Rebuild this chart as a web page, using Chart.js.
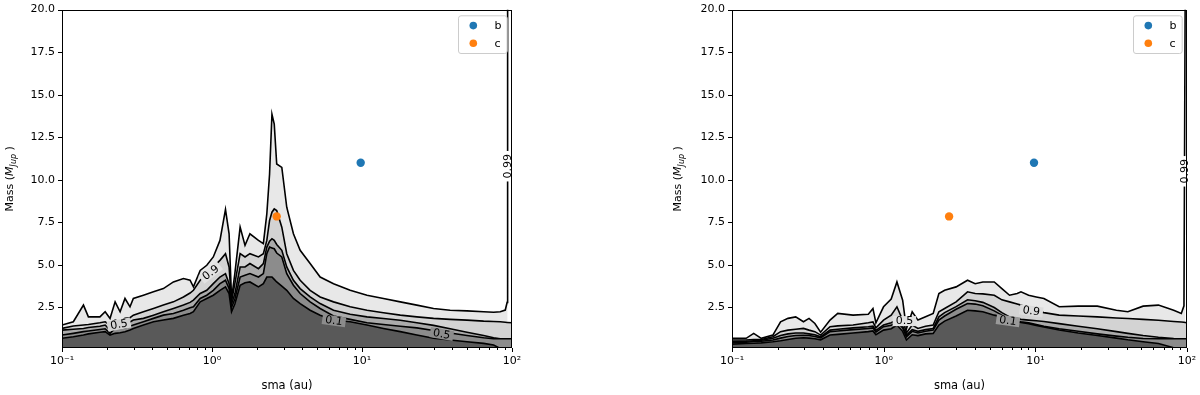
<!DOCTYPE html>
<html>
<head>
<meta charset="utf-8">
<script src="https://cdn.jsdelivr.net/npm/chart.js@4.4.1/dist/chart.umd.min.js"></script>
<style>
  html, body { margin: 0; padding: 0; background: #fff; }
  #wrap { position: relative; width: 1200px; height: 395px; }
  .panel { position: absolute; top: 0; width: 600px; height: 395px; }
</style>
</head>
<body>
<div id="wrap">
  <div class="panel" style="left:0"><canvas id="left" width="600" height="395"></canvas></div>
  <div class="panel" style="left:600px"><canvas id="right" width="600" height="395"></canvas></div>
</div>
<script>
// ── Datos ─────────────────────────────────────────────────────
const planetNames  = ["b", "c"];
const planetSma    = [9.8, 2.7];
const planetMass   = [11.0, 7.85];
const planetColors = ["#1f77b4", "#ff7f0e"];

const yTicks      = [2.5, 5, 7.5, 10, 12.5, 15, 17.5, 20];
const xMajorTicks = [0.1, 1, 10, 100];
const xTickLabels = ["10⁻¹", "10⁰", "10¹", "10²"];

// left panel: contour lines, L1 = lowest, L5 = outermost (0.99)
const leftSma = [0.1, 0.119, 0.139, 0.15, 0.179, 0.194, 0.209, 0.226, 0.244, 0.263, 0.284, 0.299, 0.349, 0.407, 0.474, 0.553, 0.645, 0.714, 0.752, 0.834, 0.923, 1.02, 1.13, 1.23, 1.3, 1.35, 1.42, 1.54, 1.66, 1.79, 2.04, 2.2, 2.32, 2.42, 2.51, 2.6, 2.7, 2.92, 3.15, 3.49, 3.87, 4.51, 5.26, 6.46, 8.34, 10.8, 13.9, 18, 23.2, 30, 38.7, 50.1, 64.7, 75.4, 83.5, 90.2, 92.8, 93.5, 100];
const leftL5 = [1.47, 1.66, 2.64, 1.95, 1.95, 2.25, 1.86, 2.83, 2.25, 3.03, 2.54, 3.03, 3.22, 3.42, 3.61, 4.00, 4.20, 4.10, 3.71, 4.68, 4.98, 5.47, 6.44, 8.26, 6.83, 3.0, 4.49, 7.22, 6.15, 6.83, 6.44, 6.25, 8.00, 10.34, 13.85, 13.27, 10.93, 10.73, 8.39, 6.83, 5.86, 5.08, 4.29, 3.90, 3.51, 3.22, 3.03, 2.83, 2.64, 2.44, 2.34, 2.30, 2.25, 2.22, 2.25, 2.35, 2.8, 20, null];
const leftL4 = [1.27, 1.41, 1.47, 1.50, 1.60, 1.66, 1.47, 1.76, 1.66, 1.86, 1.90, 2.05, 2.25, 2.44, 2.64, 2.83, 3.12, 3.35, 3.51, 4.10, 4.49, 4.88, 5.27, 5.66, 4.88, 2.85, 3.9, 5.66, 5.47, 5.66, 5.47, 5.66, 6.44, 7.61, 8.10, 8.29, 8.20, 7.22, 5.66, 4.68, 4.10, 3.51, 3.12, 2.83, 2.54, 2.34, 2.19, 2.05, 1.95, 1.86, 1.80, 1.76, 1.70, 1.68, 1.66, 1.63, 1.62, 1.62, 1.60];
const leftL3 = [1.17, 1.22, 1.27, 1.32, 1.40, 1.47, 1.17, 1.47, 1.50, 1.56, 1.65, 1.76, 1.86, 2.05, 2.25, 2.44, 2.64, 2.80, 2.93, 3.32, 3.51, 3.90, 4.29, 4.49, 3.90, 2.70, 3.3, 4.88, 4.88, 5.08, 4.78, 5.08, 6.05, 6.40, 6.54, 6.44, 6.20, 5.86, 4.88, 4.10, 3.61, 3.12, 2.73, 2.34, 2.10, 1.95, 1.85, 1.75, 1.60, 1.45, 1.25, 1.05, 0.85, 0.72, 0.66, 0.66, 0.66, 0.66, 0.66];
const leftL2 = [0.88, 0.98, 1.08, 1.12, 1.21, 1.25, 0.98, 1.27, 1.27, 1.30, 1.40, 1.47, 1.66, 1.86, 2.05, 2.15, 2.34, 2.48, 2.54, 3.03, 3.22, 3.51, 3.90, 4.10, 3.61, 2.50, 3.0, 4.29, 4.39, 4.49, 4.29, 4.49, 5.66, 6.05, 6.00, 5.95, 5.70, 5.47, 4.49, 3.81, 3.32, 2.83, 2.44, 2.00, 1.80, 1.60, 1.50, 1.40, 1.30, 1.15, 1.00, 0.85, 0.72, 0.66, 0.66, 0.66, 0.66, 0.66, 0.66];
const leftL1 = [0.69, 0.78, 0.88, 0.95, 1.05, 1.08, 0.88, 0.98, 1.02, 1.08, 1.18, 1.27, 1.47, 1.66, 1.76, 1.86, 2.05, 2.15, 2.25, 2.83, 3.03, 3.22, 3.51, 3.71, 3.32, 2.25, 2.7, 3.81, 3.95, 4.00, 3.71, 3.90, 4.29, 4.29, 4.29, 4.15, 4.00, 3.75, 3.51, 3.03, 2.73, 2.34, 2.05, 1.76, 1.66, 1.47, 1.27, 1.08, 0.88, 0.69, 0.59, 0.49, 0.39, 0.30, 0.10, 0, 0, 0, 0];

// right panel
const rightSma = [0.1, 0.124, 0.139, 0.156, 0.186, 0.209, 0.234, 0.263, 0.296, 0.322, 0.352, 0.384, 0.443, 0.498, 0.628, 0.792, 0.85, 0.889, 0.998, 1.121, 1.223, 1.334, 1.413, 1.542, 1.682, 1.889, 2.121, 2.313, 2.523, 3.003, 3.573, 4.012, 4.506, 5.361, 6.018, 6.76, 7.59, 8.042, 9.03, 10.14, 11.39, 14.36, 19.19, 25.64, 34.24, 40.75, 51.37, 64.78, 81.7, 91.7, 95.5, 97.2, 100];
const rightL5 = [0.69, 0.69, 0.98, 0.69, 0.88, 1.66, 1.86, 1.95, 1.66, 1.86, 1.56, 1.05, 1.76, 2.15, 2.05, 2.10, 2.44, 1.60, 2.54, 3.00, 4.00, 2.93, 1.25, 2.25, 1.76, 1.95, 2.15, 3.32, 3.51, 3.71, 4.10, 3.90, 4.00, 4.00, 3.61, 3.22, 3.32, 3.42, 3.22, 3.12, 3.03, 2.54, 2.58, 2.58, 2.34, 2.25, 2.58, 2.64, 2.34, 2.15, 2.6, 20, null];
const rightL4 = [0.59, 0.59, 0.62, 0.62, 0.78, 1.08, 1.17, 1.22, 1.27, 1.17, 1.08, 0.88, 1.37, 1.42, 1.47, 1.60, 1.65, 1.30, 1.76, 2.05, 2.54, 1.76, 1.00, 1.47, 1.27, 1.40, 1.47, 2.25, 2.44, 2.83, 3.42, 3.32, 3.30, 3.22, 2.95, 2.83, 2.70, 2.64, 2.45, 2.30, 2.20, 2.05, 2.00, 1.95, 1.88, 1.85, 1.80, 1.75, 1.68, 1.65, 1.63, 1.62, 1.60];
const rightL3 = [0.49, 0.52, 0.55, 0.58, 0.69, 0.85, 0.95, 1.00, 1.00, 0.95, 0.90, 0.78, 1.17, 1.22, 1.30, 1.37, 1.40, 1.15, 1.47, 1.60, 1.76, 1.40, 0.88, 1.20, 1.10, 1.20, 1.27, 1.95, 2.20, 2.55, 2.95, 2.90, 2.80, 2.50, 2.20, 1.95, 1.85, 1.80, 1.76, 1.72, 1.68, 1.55, 1.40, 1.25, 1.08, 0.98, 0.85, 0.75, 0.68, 0.66, 0.66, 0.66, 0.66];
const rightL2 = [0.43, 0.46, 0.50, 0.52, 0.59, 0.70, 0.80, 0.85, 0.87, 0.85, 0.80, 0.72, 1.08, 1.12, 1.20, 1.27, 1.30, 1.05, 1.37, 1.45, 1.66, 1.30, 0.78, 1.10, 1.00, 1.10, 1.17, 1.76, 2.00, 2.40, 2.73, 2.70, 2.60, 2.30, 2.05, 1.85, 1.70, 1.66, 1.60, 1.50, 1.40, 1.25, 1.10, 0.95, 0.82, 0.75, 0.68, 0.66, 0.66, 0.66, 0.66, 0.66, 0.66];
const rightL1 = [0.35, 0.38, 0.40, 0.42, 0.49, 0.55, 0.62, 0.69, 0.72, 0.70, 0.66, 0.60, 0.88, 0.92, 1.00, 1.08, 1.12, 0.90, 1.17, 1.25, 1.47, 1.10, 0.59, 0.90, 0.85, 0.95, 0.98, 1.47, 1.70, 2.00, 2.34, 2.30, 2.25, 2.05, 1.95, 1.80, 1.66, 1.62, 1.55, 1.45, 1.35, 1.18, 1.00, 0.85, 0.70, 0.60, 0.49, 0.38, 0.14, 0, 0, 0, 0];

// contour labels (text + anchor in data units)
const leftLabels = [
  { text: "0.9",  x: 0.98, y: 4.55, rot: -38, bg: "#e2e2e2" },
  { text: "0.5",  x: 0.24, y: 1.5,  rot: -10, bg: "#d3d3d3" },
  { text: "0.1",  x: 6.5,  y: 1.72, rot: 8,   bg: "#8c8c8c" },
  { text: "0.5",  x: 34,   y: 0.94, rot: 10,  bg: "#8c8c8c" },
  { text: "0.99", x: 93.5, y: 10.8, rot: -90, bg: "#ffffff" }
];
const rightLabels = [
  { text: "0.9",  x: 9.4,  y: 2.3,  rot: 8,   bg: "#dcdcdc" },
  { text: "0.1",  x: 6.6,  y: 1.72, rot: 8,   bg: "#9a9a9a" },
  { text: "0.5",  x: 1.37, y: 1.7,  rot: 0,   bg: "#e2e2e2" },
  { text: "0.99", x: 97.2, y: 10.5, rot: -90, bg: "#ffffff" }
];

// ── Estilo ────────────────────────────────────────────────────
const FONT = '"DejaVu Sans", sans-serif';
const greys = ["#595959", "#8c8c8c", "#ababab", "#d3d3d3", "#e8e8e8"];
Chart.defaults.font.family = FONT;
Chart.defaults.font.size = 11;
Chart.defaults.color = "#000";

const isMajor = (v) => Math.abs(Math.log10(v) - Math.round(Math.log10(v))) < 1e-6;

const xTickValues = [];
[0.1, 1, 10].forEach((d) => { for (let k = 1; k < 10; k++) xTickValues.push(k * d); });
xTickValues.push(100);

// frame, ticks, y title, contour labels, legend
const decor = {
  id: "decor",
  afterDatasetsDraw(chart, args, opts) {
    const { ctx, scales: { x, y } } = chart;
    ctx.save();
    ctx.font = `11px ${FONT}`;
    ctx.textAlign = "center";
    ctx.textBaseline = "middle";
    opts.labels.forEach((l) => {
      const w = ctx.measureText(l.text).width;
      ctx.save();
      ctx.translate(x.getPixelForValue(l.x), y.getPixelForValue(l.y));
      ctx.rotate(l.rot * Math.PI / 180);
      ctx.fillStyle = l.bg;
      ctx.fillRect(-w / 2 - 3, -5, w + 6, 10);
      ctx.fillStyle = "#000";
      ctx.fillText(l.text, 0, 0.5);
      ctx.restore();
    });
    ctx.restore();
  },
  afterDraw(chart, args, opts) {
    const { ctx, chartArea: a, scales: { x, y } } = chart;
    ctx.save();
    // frame
    ctx.strokeStyle = "#000";
    ctx.lineWidth = 1;
    ctx.strokeRect(Math.round(a.left) + 0.5, Math.round(a.top) + 0.5,
                   Math.round(a.right) - Math.round(a.left) - 1, Math.round(a.bottom) - Math.round(a.top) - 1);
    // ticks
    ctx.beginPath();
    y.ticks.forEach((t) => {
      const py = Math.round(y.getPixelForValue(t.value)) + 0.5;
      ctx.moveTo(a.left, py); ctx.lineTo(a.left - 4, py);
    });
    x.ticks.forEach((t) => {
      const px = Math.round(x.getPixelForValue(t.value)) + 0.5;
      const len = isMajor(t.value) ? 4 : 2;
      ctx.moveTo(px, a.bottom); ctx.lineTo(px, a.bottom + len);
    });
    ctx.stroke();

    // y title: Mass (M_Jup)
    const parts = [
      { t: "Mass (", f: `11px ${FONT}`, dy: 0 },
      { t: "M", f: `italic 11px ${FONT}`, dy: 0 },
      { t: "Jup", f: `italic 8px ${FONT}`, dy: 2.5 },
      { t: " )", f: `11px ${FONT}`, dy: 0 }
    ];
    let total = 0;
    parts.forEach((p) => { ctx.font = p.f; p.w = ctx.measureText(p.t).width; total += p.w; });
    ctx.translate(opts.titleX, (a.top + a.bottom) / 2);
    ctx.rotate(-Math.PI / 2);
    ctx.fillStyle = "#000";
    ctx.textBaseline = "alphabetic";
    ctx.textAlign = "left";
    let cx = -total / 2;
    parts.forEach((p) => { ctx.font = p.f; ctx.fillText(p.t, cx, 4 + p.dy); cx += p.w; });
    ctx.restore();

    // legend
    ctx.save();
    const bw = 48.7, bh = 37.7;
    const bx = a.right - 5.3 - bw, by = a.top + 5.7;
    ctx.beginPath();
    ctx.roundRect(bx + 0.5, by + 0.5, bw, bh, 2.5);
    ctx.fillStyle = "rgba(255,255,255,0.8)";
    ctx.fill();
    ctx.strokeStyle = "#cccccc";
    ctx.lineWidth = 1;
    ctx.stroke();
    ctx.font = `11px ${FONT}`;
    ctx.textBaseline = "middle";
    ctx.textAlign = "left";
    planetNames.forEach((n, i) => {
      const ly = by + 10.3 + i * 17.7;
      ctx.beginPath();
      ctx.arc(bx + 15.3, ly, 3.8, 0, Math.PI * 2);
      ctx.fillStyle = planetColors[i];
      ctx.fill();
      ctx.fillStyle = "#000";
      ctx.fillText(n, bx + 36.5, ly + 0.5);
    });
    ctx.restore();
  }
};

function contourSet(xs, ys, color) {
  return {
    type: "line",
    data: xs.map((v, i) => ({ x: v, y: ys[i] })),
    borderColor: "#000",
    borderWidth: 1.6,
    backgroundColor: color,
    fill: "start",
    pointRadius: 0,
    tension: 0,
    spanGaps: false
  };
}

function planetSets() {
  return planetNames.map((n, i) => ({
    type: "line",
    label: n,
    data: [{ x: planetSma[i], y: planetMass[i] }],
    showLine: false,
    pointRadius: 4.2,
    pointBackgroundColor: planetColors[i],
    pointBorderWidth: 0
  }));
}

function crearPanel(id, xs, lines, labels, pad, yWidth, titleX) {
  const datasets = planetSets();
  lines.forEach((ys, i) => datasets.push(contourSet(xs, ys, greys[i])));
  return new Chart(document.getElementById(id), {
    type: "line",
    data: { datasets },
    options: {
      responsive: false,
      animation: false,
      events: [],
      layout: { padding: { left: pad.left, right: pad.right, top: 8, bottom: 0 } },
      plugins: {
        legend: { display: false },
        tooltip: { enabled: false },
        decor: { labels, titleX }
      },
      scales: {
        x: {
          type: "logarithmic",
          min: 0.1,
          max: 100,
          afterBuildTicks: (s) => { s.ticks = xTickValues.map((v) => ({ value: v })); },
          afterFit: (s) => { s.height = 47; },
          grid: { display: true, drawOnChartArea: false, drawTicks: true, tickLength: 4, color: "rgba(0,0,0,0)" },
          border: { display: false },
          ticks: {
            autoSkip: false,
            maxRotation: 0,
            padding: 3,
            font: { size: 11 },
            callback: (v) => {
              const i = xMajorTicks.findIndex((m) => Math.abs(m - v) < 1e-6 * m);
              return i >= 0 ? xTickLabels[i] : "";
            }
          },
          title: { display: true, text: "sma (au)", font: { size: 11.5 }, padding: { top: 0, bottom: 2 } }
        },
        y: {
          type: "linear",
          min: 0.12,
          max: 20,
          afterBuildTicks: (s) => { s.ticks = yTicks.map((v) => ({ value: v })); },
          afterFit: (s) => { s.width = yWidth; },
          grid: { display: true, drawOnChartArea: false, drawTicks: true, tickLength: 4, color: "rgba(0,0,0,0)" },
          border: { display: false },
          ticks: { autoSkip: false, padding: 3, callback: (v) => v.toFixed(1) }
        }
      }
    },
    plugins: [decor]
  });
}

crearPanel("left",  leftSma,  [leftL1, leftL2, leftL3, leftL4, leftL5],  leftLabels,  { left: 0,  right: 88 }, 62, 9);
crearPanel("right", rightSma, [rightL1, rightL2, rightL3, rightL4, rightL5], rightLabels, { left: 68, right: 13 }, 64, 77);
</script>
</body>
</html>
